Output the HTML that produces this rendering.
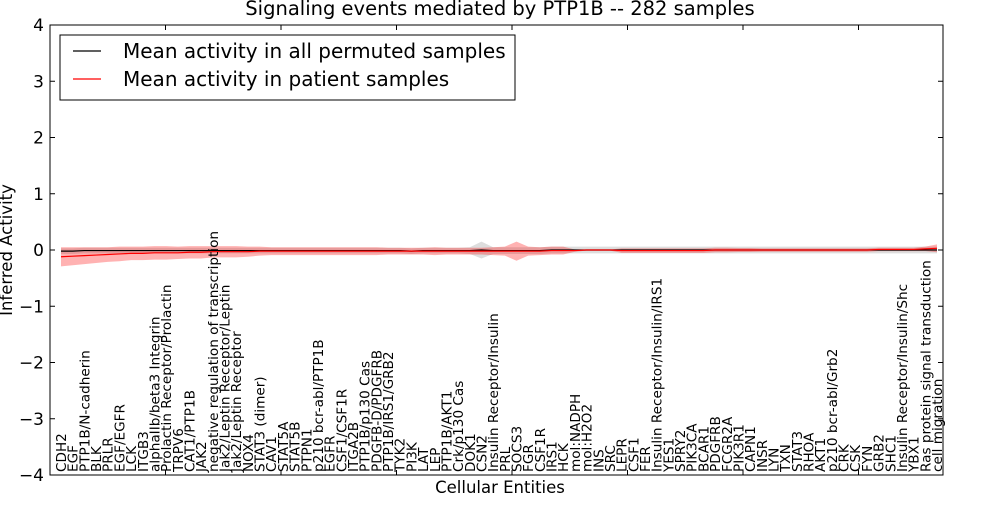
<!DOCTYPE html>
<html><head><meta charset="utf-8"><style>
body{margin:0;background:#fff;}
svg{font-family:"DejaVu Sans","Liberation Sans",sans-serif;}
</style></head><body>
<svg id="chart" width="1000" height="500" xmlns="http://www.w3.org/2000/svg">
<rect width="1000" height="500" fill="#fff"/>
<text x="500" y="15" font-size="19.5" text-anchor="middle">Signaling events mediated by PTP1B -- 282 samples</text>
<g id="bands"></g>
<g id="lines"></g>
<rect x="50" y="25" width="893" height="450" fill="none" stroke="#000" stroke-width="1"/>
<g id="yaxis"></g>
<g id="xlabels"></g>
<text transform="translate(12,250) rotate(-90)" font-size="16.5" text-anchor="middle">Inferred Activity</text>
<text x="500" y="493" font-size="16.5" text-anchor="middle">Cellular Entities</text>
<g>
<rect x="60" y="35" width="455" height="65" fill="#fff" stroke="#000" stroke-width="1"/>
<line x1="73" y1="51" x2="101" y2="51" stroke="#000" stroke-width="1.2"/>
<text x="123" y="58" font-size="20">Mean activity in all permuted samples</text>
<line x1="73" y1="79" x2="101" y2="79" stroke="#f00" stroke-width="1.2"/>
<text x="123" y="86" font-size="20">Mean activity in patient samples</text>
</g>
</svg>
<script>
const categories=["CDH2","EGF","PTP1B/N-cadherin","BLK","PRLR","EGF/EGFR","LCK","ITGB3","alphaIIb/beta3 Integrin","Prolactin Receptor/Prolactin","TRPV6","CAT1/PTP1B","JAK2","negative regulation of transcription","Jak2/Leptin Receptor/Leptin","Jak2/Leptin Receptor","NOX4","STAT3 (dimer)","CAV1","STAT5A","STAT5B","PTPN1","p210 bcr-abl/PTP1B","EGFR","CSF1/CSF1R","ITGA2B","PTP1B/p130 Cas","PDGFB-D/PDGFRB","PTP1B/IRS1/GRB2","TYK2","PI3K","LAT","LEP","PTP1B/AKT1","Crk/p130 Cas","DOK1","CSN2","Insulin Receptor/Insulin","PRL","SOCS3","FGR","CSF1R","IRS1","HCK","mol:NADPH","mol:H2O2","INS","SRC","LEPR","CSF1","FER","Insulin Receptor/Insulin/IRS1","YES1","SPRY2","PIK3CA","BCAR1","PDGFRB","FCGR2A","PIK3R1","CAPN1","INSR","LYN","TXN","STAT3","RHOA","AKT1","p210 bcr-abl/Grb2","CRK","CSK","FYN","GRB2","SHC1","Insulin Receptor/Insulin/Shc","YBX1","Ras protein signal transduction","cell migration"];
const patientMean=[-0.12,-0.11,-0.1,-0.09,-0.08,-0.07,-0.06,-0.06,-0.05,-0.05,-0.05,-0.04,-0.04,-0.03,-0.03,-0.03,-0.03,-0.02,-0.02,-0.02,-0.02,-0.02,-0.02,-0.02,-0.02,-0.02,-0.02,-0.02,-0.02,-0.02,-0.02,-0.02,-0.02,-0.02,-0.02,-0.02,-0.02,-0.02,-0.02,-0.02,-0.02,-0.02,-0.01,-0.01,-0.01,0,0,0,-0.01,-0.01,-0.01,-0.01,-0.01,-0.01,-0.01,-0.01,0,0,0,0,0,0,0,0,0,0,0,0,0,0,0.01,0.01,0.01,0.01,0.02,0.03];
const patientSpread=[0.17,0.16,0.15,0.14,0.13,0.13,0.12,0.12,0.12,0.12,0.11,0.11,0.11,0.1,0.1,0.1,0.09,0.08,0.07,0.07,0.07,0.07,0.07,0.07,0.07,0.07,0.07,0.07,0.06,0.06,0.06,0.06,0.07,0.06,0.06,0.06,0.06,0.07,0.08,0.17,0.08,0.07,0.07,0.07,0.02,0.01,0.01,0.01,0.04,0.04,0.04,0.04,0.04,0.04,0.04,0.04,0.04,0.04,0.035,0.035,0.03,0.03,0.03,0.03,0.03,0.03,0.03,0.03,0.03,0.03,0.03,0.03,0.03,0.03,0.04,0.07];
const permMean=[-0.02,-0.02,-0.01,-0.01,-0.01,-0.01,-0.01,-0.01,-0.01,-0.01,-0.01,-0.01,-0.01,-0.01,-0.01,-0.01,-0.01,-0.01,-0.01,-0.01,-0.01,-0.01,-0.01,-0.01,-0.01,-0.01,-0.01,-0.01,-0.01,-0.01,-0.02,-0.01,-0.01,-0.01,-0.01,-0.01,0,-0.01,-0.01,-0.01,-0.01,-0.01,0,0,0,0,0,0,0,0,0,0,0,0,0,0,0,0,0,0,0,0,0,0,0,0,0,0,0,0,0,0,0,0,0,0];
const permSpread=[0.05,0.05,0.05,0.05,0.05,0.05,0.05,0.05,0.05,0.05,0.05,0.05,0.05,0.05,0.05,0.05,0.05,0.05,0.05,0.05,0.05,0.05,0.05,0.05,0.05,0.05,0.05,0.05,0.05,0.05,0.05,0.05,0.05,0.05,0.05,0.06,0.15,0.06,0.06,0.06,0.06,0.06,0.06,0.06,0.06,0.06,0.06,0.06,0.06,0.06,0.06,0.06,0.06,0.06,0.06,0.06,0.06,0.06,0.06,0.06,0.06,0.06,0.06,0.06,0.06,0.06,0.06,0.06,0.06,0.06,0.06,0.06,0.06,0.06,0.06,0.06];
const yTicks=[4,3,2,1,0,-1,-2,-3,-4];
const yTickLabels=["4","3","2","1","0","\u22121","\u22122","\u22123","\u22124"];
const topTicks=[0,10,20,30,40,50,60,70];

const NS="http://www.w3.org/2000/svg";
function X(i){return 61+i*(937-61)/(categories.length-1);}
function Y(v){return 250-v*56.25;}
function mk(t,a){const e=document.createElementNS(NS,t);for(const k in a)e.setAttribute(k,a[k]);return e;}
function band(mean,sp){
  let up=mean.map((m,i)=>X(i)+","+Y(m+sp[i]));
  let dn=mean.map((m,i)=>X(i)+","+Y(m-sp[i])).reverse();
  return up.concat(dn).join(" ");
}
const bands=document.getElementById('bands');
const pb=mk('polygon',{points:band(permMean,permSpread),fill:'#bbb','fill-opacity':'0.5'});


bands.appendChild(pb);
const rb=mk('polygon',{points:band(patientMean,patientSpread),fill:'#f00','fill-opacity':'0.3'});


bands.appendChild(rb);
const lines=document.getElementById('lines');
const pl=mk('polyline',{points:permMean.map((m,i)=>X(i)+","+Y(m)).join(" "),fill:'none',stroke:'#000','stroke-width':'1.2'});


lines.appendChild(pl);
const rl=mk('polyline',{points:patientMean.map((m,i)=>X(i)+","+Y(m)).join(" "),fill:'none',stroke:'#f00','stroke-width':'1.2'});


lines.appendChild(rl);
const ya=document.getElementById('yaxis');
yTicks.forEach((v,k)=>{
  ya.appendChild(mk('line',{x1:50,x2:55,y1:Y(v),y2:Y(v),stroke:'#000'}));
  ya.appendChild(mk('line',{x1:938,x2:943,y1:Y(v),y2:Y(v),stroke:'#000'}));
  const t=mk('text',{x:44,y:Y(v)+6,'font-size':'17','text-anchor':'end'});
  
  
  t.textContent=yTickLabels[k];ya.appendChild(t);
});
topTicks.forEach(v=>{
  const x=50+v*11.55;
  ya.appendChild(mk('line',{x1:x,x2:x,y1:25,y2:30,stroke:'#000'}));
  ya.appendChild(mk('line',{x1:x,x2:x,y1:470,y2:475,stroke:'#000'}));
});
const xl=document.getElementById('xlabels');
categories.forEach((c,i)=>{
  const x=X(i)+5;
  const t=mk('text',{transform:`translate(${x},472) rotate(-90)`,'font-size':'13.6'});
  
  
  t.textContent=c;xl.appendChild(t);
});
</script>
</body></html>
